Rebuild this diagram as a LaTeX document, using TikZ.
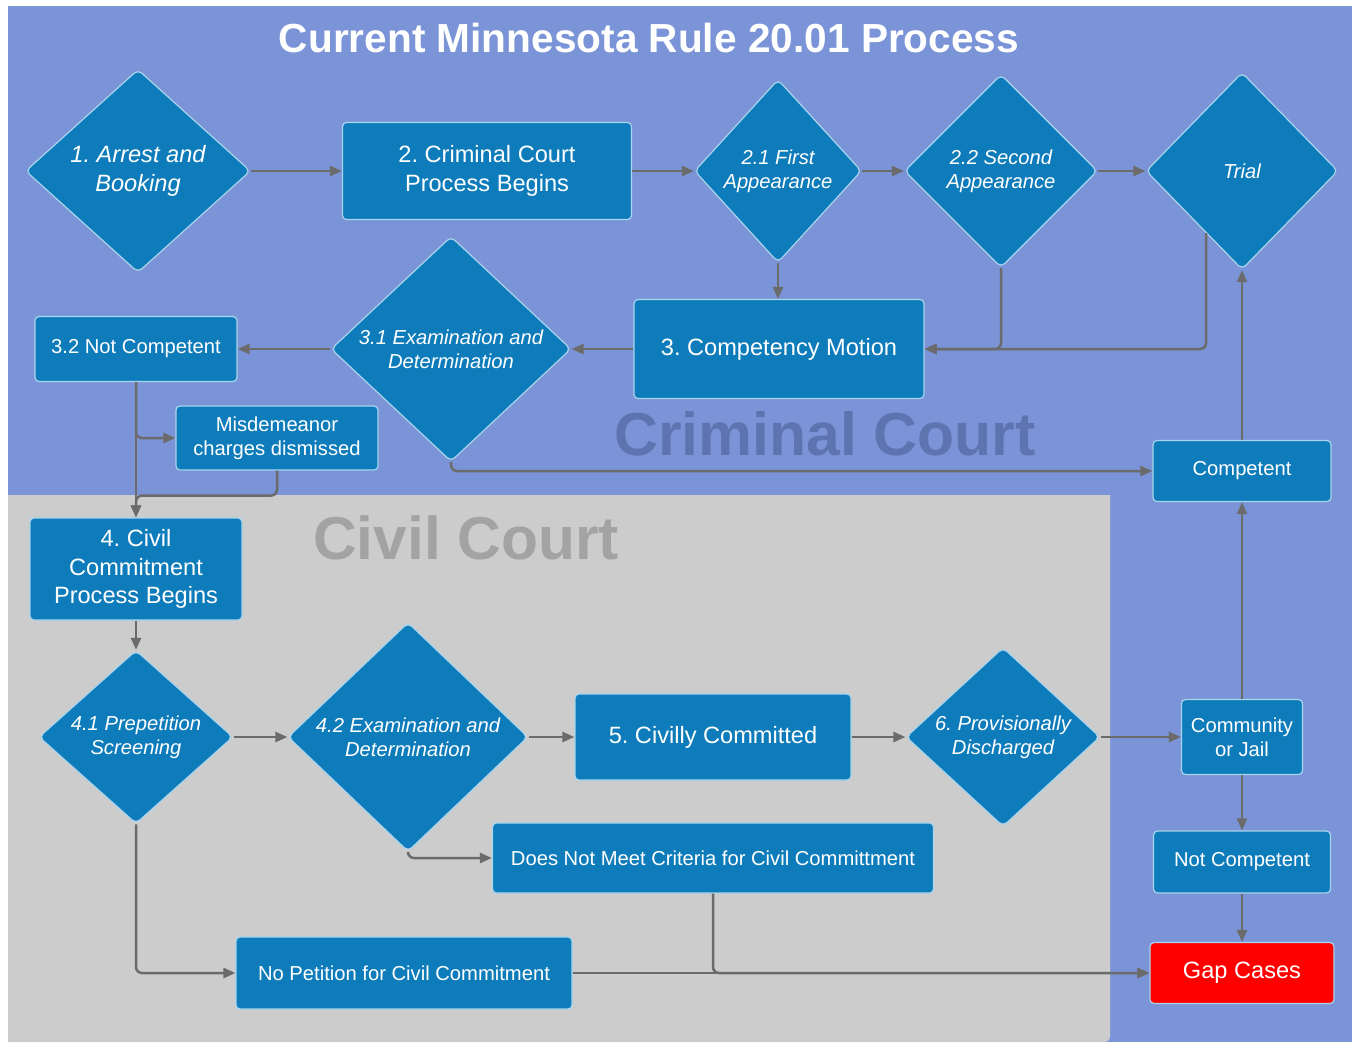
\documentclass[tikz,border=0pt]{standalone}
\usepackage{fontspec}
\setmainfont{Liberation Sans}
\frenchspacing
\usetikzlibrary{shapes.geometric,arrows.meta}
\definecolor{bgblue}{HTML}{7B94D7}
\definecolor{civgray}{HTML}{CCCCCC}
\definecolor{stepblue}{HTML}{0E7CBA}
\definecolor{stepedge}{HTML}{A8D4EE}
\definecolor{wire}{HTML}{6B6B6B}
\definecolor{crimtext}{HTML}{5E74B0}
\definecolor{civtext}{HTML}{A3A3A3}
\definecolor{gapred}{HTML}{FF0000}
\begin{document}
\begin{tikzpicture}
[x=1pt,y=-1pt,
every node/.style={text=white,align=center,inner sep=0pt},
sm/.style={font=\fontsize{20.2}{24.2}\selectfont},
lg/.style={font=\fontsize{23.6}{28.5}\selectfont},
smit/.style={font=\itshape\fontsize{20.2}{24.2}\selectfont},
lgit/.style={font=\itshape\fontsize{23.6}{28.5}\selectfont},
box/.style={rectangle,rounded corners=4pt,fill=stepblue,draw=stepedge,line width=1.2pt},
decision/.style={diamond,rounded corners=5pt,fill=stepblue,draw=stepedge,line width=1.2pt},
flow/.style={draw=wire,line width=2.5pt,rounded corners=6pt,-{Triangle[length=12pt,width=10pt]}}]
\useasboundingbox (0,0) rectangle (1354,1042);
\fill[white] (0,0) rectangle (1354,1042);
\fill[bgblue] (8,6) rectangle (1352,1042);
\fill[civgray] (8,1042) -- (8,495) -- (1110,495) [rounded corners=5pt] -- (1110,1042) [sharp corners] -- cycle;

\node[font=\bfseries\fontsize{40.6}{49}\selectfont] (title) at (649,38) {Current Minnesota Rule 20.01 Process};
\node[text=crimtext,font=\bfseries\fontsize{60.7}{70}\selectfont] (crimlabel) at (825,434) {Criminal Court};
\node[text=civtext,font=\bfseries\fontsize{60.5}{70}\selectfont] (civlabel) at (466,538) {Civil Court};

\node[decision,lgit,minimum width=225pt,minimum height=203pt] (arrest) at (138,171) {1. Arrest and\\Booking};
\node[box,lg,minimum width=289pt,minimum height=97pt] (crimproc) at (487,171) {2. Criminal Court\\Process Begins};
\node[decision,smit,minimum width=167pt,minimum height=183pt] (first) at (778,171) {2.1 First\\Appearance};
\node[decision,smit,minimum width=193pt,minimum height=193pt] (second) at (1001,171) {2.2 Second\\Appearance};
\node[decision,smit,minimum width=192pt,minimum height=197pt] (trial) at (1242,171) {Trial};
\node[box,lg,minimum width=290pt,minimum height=99pt] (motion) at (779,349) {3. Competency Motion};
\node[decision,smit,minimum width=240pt,minimum height=225pt] (exam) at (451,349) {3.1 Examination and\\Determination};
\node[box,sm,minimum width=202pt,minimum height=65pt] (notcomp) at (136,349) {3.2 Not Competent};
\node[box,sm,minimum width=202pt,minimum height=64pt] (misd) at (277,438) {Misdemeanor\\charges dismissed};
\node[box,sm,minimum width=178pt,minimum height=61pt] (competent) at (1242,471) {Competent};
\node[box,lg,minimum width=212pt,minimum height=102pt] (civproc) at (136,569) {4. Civil\\Commitment\\Process Begins};
\node[decision,smit,minimum width=194pt,minimum height=170pt] (prepet) at (136,737) {4.1 Prepetition\\Screening};
\node[decision,smit,minimum width=240pt,minimum height=229pt] (civexam) at (408,737) {4.2 Examination and\\Determination};
\node[box,lg,minimum width=276pt,minimum height=86pt] (committed) at (713,737) {5. Civilly Committed};
\node[decision,smit,minimum width=194pt,minimum height=170pt] (discharged) at (1003,737) {6. Provisionally\\Discharged};
\node[box,sm,minimum width=121pt,minimum height=75pt] (community) at (1242,737) {Community\\or Jail};
\node[box,sm,minimum width=177pt,minimum height=62pt] (notcomp2) at (1242,862) {Not Competent};
\node[box,lg,fill=gapred,minimum width=184pt,minimum height=61pt] (gap) at (1242,973) {Gap Cases};
\node[box,sm,minimum width=441pt,minimum height=70pt] (nocrit) at (713,858) {Does Not Meet Criteria for Civil Committment};
\node[box,sm,minimum width=336pt,minimum height=72pt] (nopet) at (404,973) {No Petition for Civil Commitment};

\draw[flow] (arrest.east) -- (crimproc.west);
\draw[flow] (crimproc.east) -- (first.west);
\draw[flow] (first.east) -- (second.west);
\draw[flow] (second.east) -- (trial.west);
\draw[flow] (first.south) -- (first.south |- motion.north);
\draw[flow] (second.south) |- (motion.east);
\draw[flow] (trial.-120) |- (motion.east);
\draw[flow] (motion.west) -- (exam.east);
\draw[flow] (exam.west) -- (notcomp.east);
\draw[flow] (notcomp.south) -- (civproc.north);
\draw[flow] (notcomp.south) |- (misd.west);
\draw[flow] (misd.south) -- ++(0,25) -| (civproc.north);
\draw[flow] (exam.south) |- (competent.west);
\draw[flow] (competent.north) -- (trial.south);
\draw[flow] (community.north) -- (competent.south);
\draw[flow] (civproc.south) -- (prepet.north);
\draw[flow] (prepet.east) -- (civexam.west);
\draw[flow] (civexam.east) -- (committed.west);
\draw[flow] (committed.east) -- (discharged.west);
\draw[flow] (discharged.east) -- (community.west);
\draw[flow] (community.south) -- (notcomp2.north);
\draw[flow] (notcomp2.south) -- (gap.north);
\draw[flow] (civexam.south) |- (nocrit.west);
\draw[flow] (prepet.south) |- (nopet.west);
\draw[flow] (nopet.east) -- (gap.west);
\draw[flow] (nocrit.south) |- (gap.west);
\end{tikzpicture}
\end{document}
